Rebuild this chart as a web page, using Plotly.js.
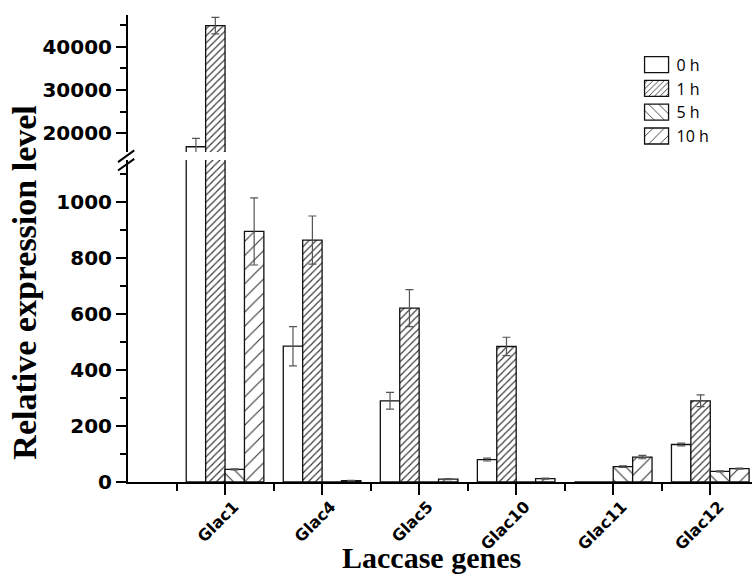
<!DOCTYPE html>
<html>
<head>
<meta charset="utf-8">
<script src="https://cdn.plot.ly/plotly-3.0.1.min.js"></script>
<style>html,body{margin:0;padding:0;background:#fff;}#chart{width:752px;height:574px;}</style>
</head>
<body>
<div id="chart"></div>
<script>
// ---- data ----
const genes = ["Glac1", "Glac4", "Glac5", "Glac10", "Glac11", "Glac12"];
const seriesNames = ["0 h", "1 h", "5 h", "10 h"];
const h0  = [16900, 485, 290, 80, 0, 134];
const h0e = [1950, 70, 30, 5, 0, 5];
const h1  = [44850, 864, 621, 484, 0, 290];
const h1e = [1900, 86, 66, 33, 0, 21];
const h5  = [45, 0, 0, 0, 55, 38];
const h5e = [2, 0, 0, 0, 3, 2];
const h10 = [895, 5, 10, 12, 89, 48];
const h10e = [120, 1, 2, 2, 6, 2];
const lowTicks = [0, 200, 400, 600, 800, 1000];
const highTicks = [20000, 30000, 40000];

const values = [h0, h1, h5, h10];
const errors = [h0e, h1e, h5e, h10e];
const patterns = [
  {shape: "", fillmode: "replace"},
  {shape: "/", size: 5, solidity: 0.22, fgcolor: "#333", bgcolor: "#fff", fillmode: "replace"},
  {shape: "\\", size: 9, solidity: 0.12, fgcolor: "#333", bgcolor: "#fff", fillmode: "replace"},
  {shape: "/", size: 10, solidity: 0.11, fgcolor: "#333", bgcolor: "#fff", fillmode: "replace"}
];
const xpos = genes.map((g, i) => i);

const traces = [];
["y", "y2"].forEach((ya, k) => {
  values.forEach((v, i) => {
    traces.push({
      type: "bar",
      x: xpos,
      y: v,
      name: seriesNames[i],
      yaxis: ya,
      xaxis: "x",
      showlegend: k === 0,
      marker: {color: "#fff", line: {color: "#111", width: 1.3}, pattern: patterns[i]},
      error_y: {type: "data", array: errors[i], visible: true, color: "#555", thickness: 1.2, width: 4},
      hoverinfo: "skip"
    });
  });
});

const tickFont = {family: "DejaVu Sans", size: 20, color: "#000", weight: "bold"};
const axisCommon = {
  showline: true, linecolor: "#000", linewidth: 2,
  ticks: "outside", ticklen: 10, tickwidth: 2, tickcolor: "#000",
  showgrid: false, zeroline: false, tickfont: tickFont, fixedrange: true,
  tickformat: "d"
};

const layout = {
  width: 752, height: 574,
  margin: {l: 128, r: 0, t: 15, b: 92},
  paper_bgcolor: "#fff", plot_bgcolor: "rgba(0,0,0,0)",
  barmode: "group", bargap: 0.2, bargroupgap: 0,
  showlegend: true,
  legend: {
    x: 0.815, y: 0.93, xanchor: "left", yanchor: "top",
    font: {family: "Open Sans", size: 16, color: "#000"},
    bgcolor: "rgba(0,0,0,0)", tracegroupgap: 0
  },
  xaxis: {
    anchor: "y", range: [-1, 5.43], tickvals: xpos, ticktext: genes, tickangle: -45,
    showline: true, linecolor: "#000", linewidth: 2,
    ticks: "outside", ticklen: 11, tickwidth: 2, tickcolor: "#000",
    ticklabelshift: 9, ticklabelstandoff: -4,
    minor: {tickvals: xpos.map(v => v - 0.5), ticks: "outside", ticklen: 7, tickwidth: 2, tickcolor: "#000"},
    showgrid: false, zeroline: false, fixedrange: true,
    tickfont: {family: "DejaVu Sans", size: 16, color: "#000", weight: "bold"}
  },
  yaxis: Object.assign({}, axisCommon, {
    domain: [0, 0.6895], range: [0, 1150], tickvals: lowTicks,
    minor: {dtick: 100, ticks: "outside", ticklen: 6, tickwidth: 2, tickcolor: "#000"}
  }),
  yaxis2: Object.assign({}, axisCommon, {
    domain: [0.7066, 1], range: [15680, 47300], tickvals: highTicks, anchor: "x",
    minor: {dtick: 5000, ticks: "outside", ticklen: 6, tickwidth: 2, tickcolor: "#000"}
  }),
  annotations: [
    {
      text: "Relative expression level", xref: "paper", yref: "paper",
      x: -0.165, y: 0.427, xanchor: "center", yanchor: "middle", textangle: -90, showarrow: false,
      font: {family: "Liberation Serif", size: 34, color: "#000", weight: "bold"}
    },
    {
      text: "Laccase genes", xref: "paper", yref: "paper",
      x: 0.486, y: -0.1606, xanchor: "center", yanchor: "middle", showarrow: false,
      font: {family: "Liberation Serif", size: 30, color: "#000", weight: "bold"}
    }
  ],
  shapes: [
    {type: "line", xref: "paper", yref: "paper", x0: -0.016, x1: 0.01, y0: 0.685, y1: 0.71, line: {color: "#000", width: 2}},
    {type: "line", xref: "paper", yref: "paper", x0: -0.016, x1: 0.01, y0: 0.667, y1: 0.692, line: {color: "#000", width: 2}}
  ]
};

Plotly.newPlot("chart", traces, layout, {staticPlot: true, displayModeBar: false}).then(function (gd) {
  // enlarge the legend swatches to match the reference's wider boxes
  gd.querySelectorAll(".legend .legendpoints path").forEach(function (p) {
    p.setAttribute("d", "M12,8H-12V-8H12Z");
  });
});
</script>
</body>
</html>
